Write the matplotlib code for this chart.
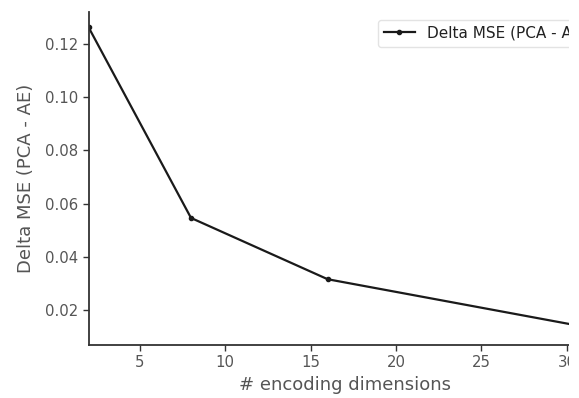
import matplotlib
matplotlib.use("Agg")
import matplotlib.pyplot as plt
from matplotlib.patches import Rectangle

dims = [2, 8, 16, 32]
delta_mse = [0.1262, 0.0546, 0.0316, 0.0126]
xticks = [5, 10, 15, 20, 25, 30]
yticks = [0.02, 0.04, 0.06, 0.08, 0.10, 0.12]

W, H = 579, 398
fig = plt.figure(figsize=(W / 100, H / 100), dpi=100)
# the reference image is cropped on the right: the axes run past the edge
ax = fig.add_axes([88.5 / W, 1 - 345 / H, (601 - 88.5) / W, (345 - 12) / H])

ax.plot(dims, delta_mse, color="#1a1a1a", lw=1.6, marker=".", ms=6,
        label="Delta MSE (PCA - AE)")
ax.set_xlim(2, 32)
ax.set_xticks(xticks)
ax.set_yticks(yticks)
ax.set_yticklabels([f"{v:.2f}" for v in yticks])

for s in ["top", "right"]:
    ax.spines[s].set_visible(False)
for s in ["left", "bottom"]:
    ax.spines[s].set_color("#333333")
    ax.spines[s].set_linewidth(1.3)
ax.tick_params(colors="#555555", labelsize=10.7, length=4, width=1, direction="out")
ax.tick_params(axis="both", color="#333333")

ax.set_xlabel("# encoding dimensions", fontsize=13, color="#555555", labelpad=4)
ax.set_ylabel("Delta MSE (PCA - AE)", fontsize=13, color="#555555", labelpad=7)

leg = ax.legend(loc="upper right", fontsize=11, frameon=True)
leg.get_frame().set_edgecolor("#dddddd")
for t in leg.get_texts():
    t.set_color("#222222")

fig.patches.append(Rectangle((569 / W, 0), 1, 1, transform=fig.transFigure,
                             facecolor="white", edgecolor="none", zorder=100))

fig.savefig("out.png", dpi=100)
